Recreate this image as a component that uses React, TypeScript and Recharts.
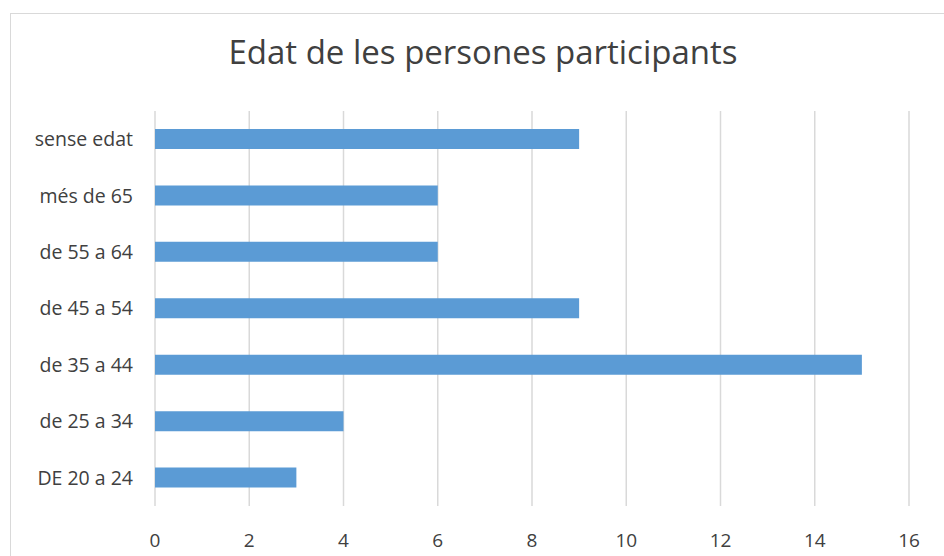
import React from "react";
import { Bar, BarChart, CartesianGrid, XAxis, YAxis } from "recharts";

const categories = [
  "sense edat",
  "més de 65",
  "de 55 a 64",
  "de 45 a 54",
  "de 35 a  44",
  "de 25 a 34",
  "DE 20 a 24",
];
const persones = [9, 6, 6, 9, 15, 4, 3];
const xTicks = [0, 2, 4, 6, 8, 10, 12, 14, 16];

const data = categories.map((name, i) => ({ name, value: persones[i] }));

const FONT = "'Open Sans', 'Noto Sans', sans-serif";
const TEXT = "#404040";

export default function App() {
  return (
    <div
      style={{
        position: "absolute",
        left: 0,
        top: 0,
        width: 944,
        height: 556,
        overflow: "hidden",
        background: "#fff",
        fontFamily: FONT,
      }}
    >
      <div
        style={{
          position: "absolute",
          left: 10,
          top: 13,
          width: 960,
          height: 600,
          border: "1px solid #d9d9d9",
        }}
      />
      <div
        style={{
          position: "absolute",
          left: 0,
          top: 29,
          width: 966,
          textAlign: "center",
          fontSize: 33,
          color: TEXT,
          whiteSpace: "pre",
        }}
      >
        Edat de les persones participants
      </div>
      <div style={{ position: "absolute", left: 0, top: 0 }}>
        <BarChart
          width={944}
          height={556}
          data={data}
          layout="vertical"
          margin={{ top: 111, right: 35, bottom: 0, left: 10 }}
          barSize={20}
        >
          <CartesianGrid horizontal={false} stroke="#d9d9d9" strokeWidth={1.5} />
          <XAxis
            type="number"
            domain={[0, 16]}
            ticks={xTicks}
            axisLine={false}
            tickLine={false}
            tickSize={0}
            tickMargin={28}
            height={50}
            tick={{ fill: TEXT, fontSize: 19, fontFamily: FONT }}
          />
          <YAxis
            type="category"
            dataKey="name"
            width={145}
            axisLine={false}
            tickLine={false}
            tickSize={0}
            tickMargin={22}
            tick={{ fill: TEXT, fontSize: 19.5, fontFamily: FONT }}
          />
          <Bar dataKey="value" fill="#5b9bd5" isAnimationActive={false} />
        </BarChart>
      </div>
    </div>
  );
}
